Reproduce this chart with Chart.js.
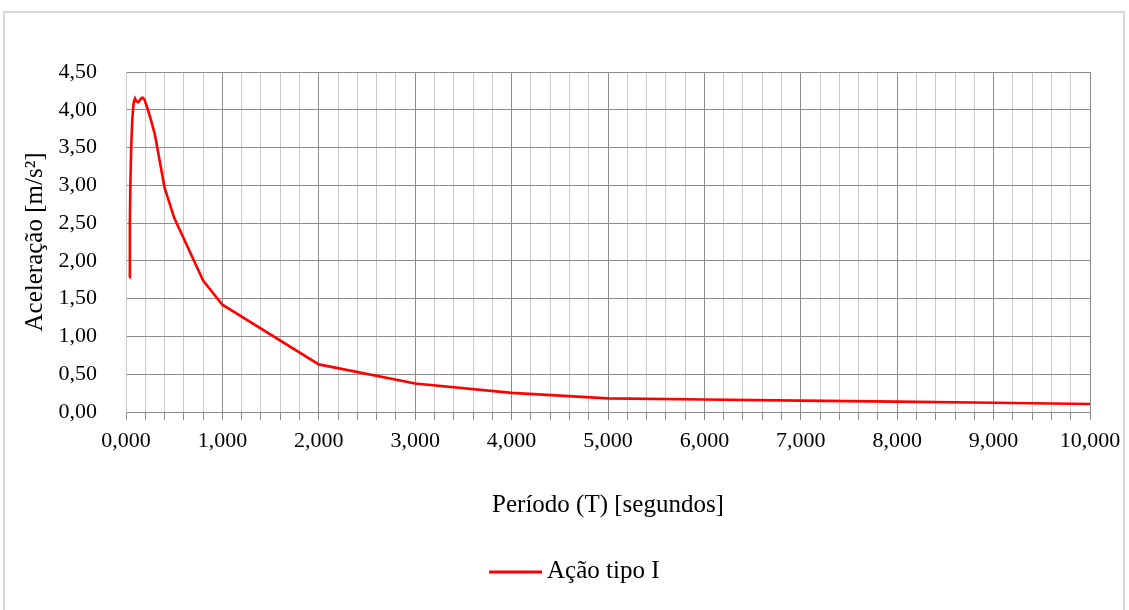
<!DOCTYPE html>
<html>
<head>
<meta charset="utf-8">
<script src="https://cdn.jsdelivr.net/npm/chart.js@4.4.0/dist/chart.umd.min.js"></script>
<style>
  html, body { margin: 0; padding: 0; background: #fff; }
  #wrap { position: relative; width: 1129px; height: 610px; }
  #frame {
    position: absolute; left: 3px; top: 11px; width: 1122px; height: 620px;
    border: 2px solid #d9d9d9; box-sizing: border-box;
  }
  canvas { position: absolute; left: 0; top: 0; }
</style>
</head>
<body>
<div id="wrap">
  <div id="frame"></div>
  <canvas id="spectrum" width="1129" height="610"></canvas>
</div>
<script>
/**************** DATA ****************/
const periods = [0.035, 0.04, 0.045, 0.055, 0.066, 0.08, 0.094, 0.11, 0.128, 0.15, 0.17, 0.19, 0.22, 0.26, 0.3, 0.4, 0.5, 0.8, 1, 2, 3, 4, 5, 6, 7, 8, 9, 10];
const accel   = [1.78, 2.5, 3.0, 3.55, 3.89, 4.10, 4.15, 4.11, 4.10, 4.14, 4.16, 4.14, 4.03, 3.86, 3.67, 2.97, 2.57, 1.74, 1.42, 0.63, 0.378, 0.253, 0.18, 0.165, 0.15, 0.137, 0.123, 0.105];
const seriesName = "Ação tipo I";
const xTitle = "Período (T) [segundos]";
const yTitle = "Aceleração [m/s²]";

/**************** STYLE ****************/
const FONT = "'Liberation Serif', 'Times New Roman', serif";
const RED = "#ff0000";
const DARK = "#8c8c8c";
const LIGHT = "#cacaca";

function isWhole(v) {
  return Math.abs(v - Math.round(v)) < 1e-6;
}

function comma(v, d) {
  return v.toFixed(d).replace(".", ",");
}

/**************** LEGEND (drawn under the axis title) ****************/
const legendPlugin = {
  id: "bottomLegend",
  afterDraw(chart) {
    const c = chart.ctx;
    c.save();
    c.strokeStyle = RED;
    c.lineWidth = 3;
    c.beginPath();
    c.moveTo(489, 572);
    c.lineTo(542, 572);
    c.stroke();
    c.fillStyle = "#000";
    c.font = "25px " + FONT;
    c.textBaseline = "middle";
    c.textAlign = "left";
    c.fillText(seriesName, 547, 571);
    c.restore();
  }
};

/**************** CHART ****************/
const points = periods.map((t, i) => ({ x: t, y: accel[i] }));

new Chart(document.getElementById("spectrum"), {
  type: "line",
  data: {
    datasets: [{
      label: seriesName,
      data: points,
      borderColor: RED,
      borderWidth: 2.6,
      pointRadius: 0,
      fill: false,
      tension: 0
    }]
  },
  options: {
    responsive: false,
    animation: false,
    layout: { padding: { top: 72, right: 39, left: 0, bottom: 90 } },
    plugins: {
      legend: { display: false },
      tooltip: { enabled: false }
    },
    scales: {
      x: {
        type: "linear",
        min: 0,
        max: 10,
        afterFit: s => { s.height = 108; },
        ticks: {
          stepSize: 0.2,
          autoSkip: false,
          maxRotation: 0,
          padding: 8,
          color: "#000",
          font: { family: FONT, size: 22 },
          callback: v => isWhole(v) ? comma(v, 3) : ""
        },
        grid: {
          color: ctx => (isWhole(ctx.tick.value) && ctx.tick.value > 0) ? DARK : LIGHT,
          tickColor: DARK,
          tickLength: 8,
          lineWidth: 1
        },
        border: { display: true, color: DARK },
        title: {
          display: true,
          text: xTitle,
          color: "#000",
          font: { family: FONT, size: 25 },
          padding: { top: 0, bottom: 0 }
        }
      },
      y: {
        min: 0,
        max: 4.5,
        afterFit: s => { s.width = 126; },
        ticks: {
          stepSize: 0.5,
          padding: 29,
          color: "#000",
          font: { family: FONT, size: 22 },
          callback: v => comma(v, 2)
        },
        grid: {
          color: DARK,
          drawTicks: false,
          lineWidth: 1
        },
        border: { display: true, color: LIGHT },
        title: {
          display: true,
          text: yTitle,
          color: "#000",
          font: { family: FONT, size: 25 },
          padding: { top: 20, bottom: 0 }
        }
      }
    }
  },
  plugins: [legendPlugin]
});
</script>
</body>
</html>
